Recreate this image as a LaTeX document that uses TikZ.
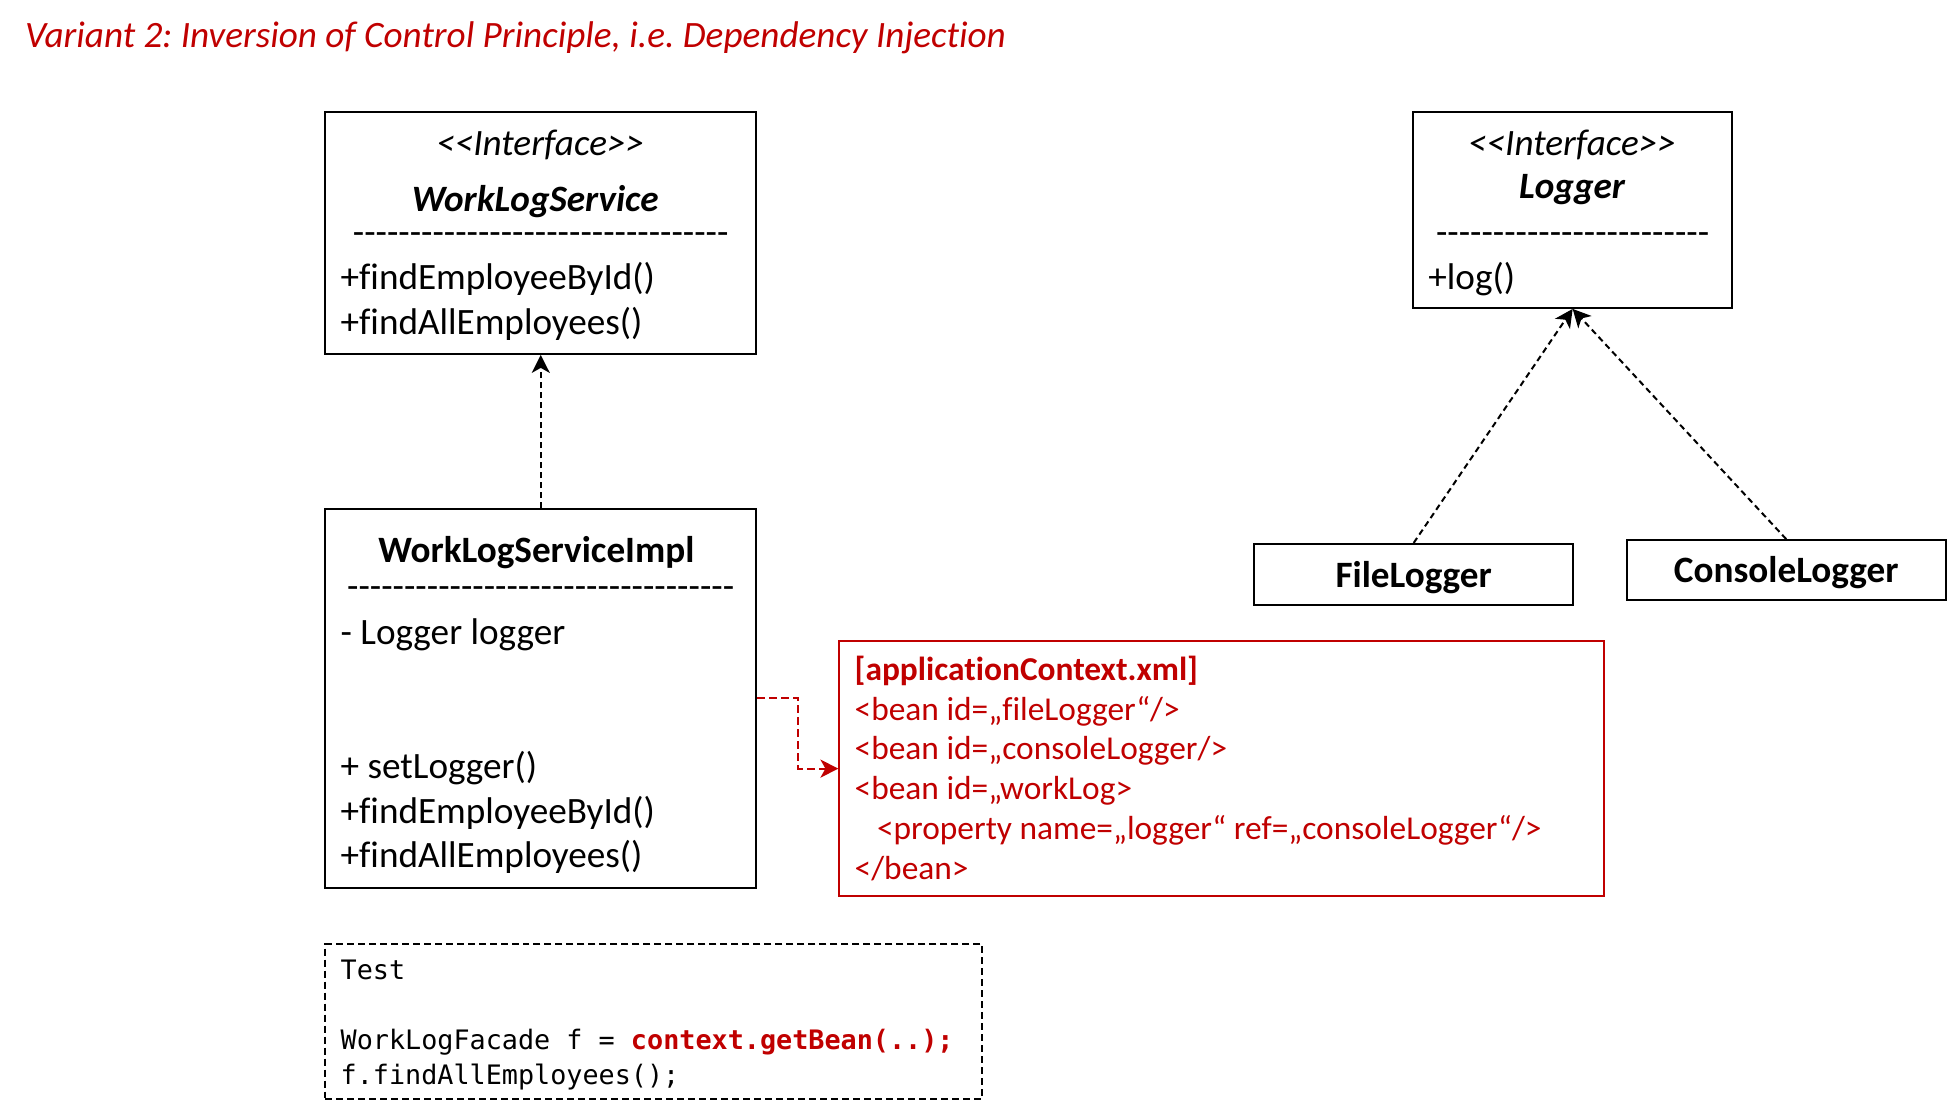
\documentclass[tikz,border=0pt]{standalone}
\usepackage{fontspec}
\setmainfont{Carlito}[Ligatures=CommonOff]
\newfontfamily\codefont{DejaVu Sans Mono}
\usetikzlibrary{arrows.meta}
\definecolor{xmlred}{RGB}{192,0,0}
\newcommand\hyphens[1]{\foreach\k in {1,...,#1}{-}}
\frenchspacing

\begin{document}
\begin{tikzpicture}[x=0.621pt,y=-0.621pt,
  umlbox/.style={draw,line width=1pt,inner sep=0pt},
  txt/.style={anchor=base west,inner sep=0pt,font=\fontsize{18.6}{22.4}\selectfont},
  ctxt/.style={anchor=base,inner sep=0pt,font=\fontsize{18.6}{22.4}\selectfont},
  xmltxt/.style={anchor=base west,inner sep=0pt,text=xmlred,font=\fontsize{16.7}{19.9}\selectfont},
  codetxt/.style={anchor=base west,inner sep=0pt,font=\codefont\fontsize{13.4}{17.4}\selectfont},
  dep/.style={dash pattern=on 3pt off 2pt,line width=1pt,-{Stealth[length=9pt,width=9pt,inset=2.5pt]}}]
\useasboundingbox (0,0) rectangle (1568,893);
\node (title) [txt,text=xmlred,font=\fontsize{18.6}{22.4}\selectfont\itshape] at (20,38) {Variant 2: Inversion of Control Principle, i.e. Dependency Injection};

% boxes
\node (wls) [umlbox,minimum width=215.5pt,minimum height=121.1pt] at (435.5,187.5) {};
\node (impl) [umlbox,minimum width=215.5pt,minimum height=189.4pt] at (435.5,562.5) {};
\node (logger) [umlbox,minimum width=159.6pt,minimum height=98.1pt] at (1266.5,169) {};
\node (file) [umlbox,minimum width=159.6pt,minimum height=30.4pt,text depth=0pt,font=\fontsize{18.6}{22.4}\selectfont\bfseries] at (1138.5,462.5) {FileLogger};
\node (console) [umlbox,minimum width=159.6pt,minimum height=29.8pt,text depth=0pt,font=\fontsize{18.6}{22.4}\selectfont\bfseries] at (1438.5,459) {ConsoleLogger};
\node (xml) [umlbox,draw=xmlred,minimum width=382.5pt,minimum height=127.9pt] at (984,619) {};
\node (test) [umlbox,dash pattern=on 3.5pt off 2pt,minimum width=328.5pt,minimum height=77.6pt] at (526.5,822.5) {};

% WorkLogService
\node (wlsst) [ctxt,font=\fontsize{18.6}{22.4}\selectfont\itshape] at (435,125) {<{}<Interface>{}>};
\node (wlsname) [ctxt,font=\fontsize{18.6}{22.4}\selectfont\bfseries\itshape] at (431,170) {WorkLogService};
\node (wlsline) [ctxt] at (435.5,197) {\hyphens{33}};
\node (wlsm1) [txt] at (274,233) {+findEmployeeById()};
\node (wlsm2) [txt] at (274,269) {+findAllEmployees()};

% WorkLogServiceImpl
\node (implname) [ctxt,font=\fontsize{18.6}{22.4}\selectfont\bfseries] at (432,453) {WorkLogServiceImpl};
\node (implline) [ctxt] at (435.5,482) {\hyphens{34}};
\node (implattr) [txt] at (274,519) {- Logger logger};
\node (implm1) [txt] at (274,627) {+ setLogger()};
\node (implm2) [txt] at (274,663) {+findEmployeeById()};
\node (implm3) [txt] at (274,699) {+findAllEmployees()};

% Logger
\node (loggerst) [ctxt,font=\fontsize{18.6}{22.4}\selectfont\itshape] at (1266,125) {<{}<Interface>{}>};
\node (loggername) [ctxt,font=\fontsize{18.6}{22.4}\selectfont\bfseries\itshape] at (1266,160) {Logger};
\node (loggerline) [ctxt] at (1266.5,197) {\hyphens{24}};
\node (loggerm1) [txt] at (1150,233) {+log()};

% applicationContext.xml
\node (xml1) [xmltxt,font=\fontsize{16.7}{19.9}\selectfont\bfseries] at (688,548) {[applicationContext.xml]};
\node (xml2) [xmltxt] at (688,580) {<bean id=„fileLogger“/>};
\node (xml3) [xmltxt] at (688,612) {<bean id=„consoleLogger/>};
\node (xml4) [xmltxt] at (688,644) {<bean id=„workLog>};
\node (xml5) [xmltxt] at (706,676) {<property name=„logger“ ref=„consoleLogger“/>};
\node (xml6) [xmltxt] at (688,708) {</bean>};

% Test
\node (test1) [codetxt] at (274,789) {Test};
\node (test2) [codetxt] at (274,845) {WorkLogFacade f = \textcolor{xmlred}{\bfseries context.getBean(..);}};
\node (test3) [codetxt] at (274,873) {f.findAllEmployees();};

% arrows
\draw[dep] (impl.north) -- (wls.south);
\draw[dep] (file.north) -- (logger.south);
\draw[dep] (console.north) -- (logger.south);
\draw[dep,color=xmlred,dash pattern=on 4pt off 2pt] (impl.east) -- ++(33,0) |- (xml.west);
\end{tikzpicture}
\end{document}
